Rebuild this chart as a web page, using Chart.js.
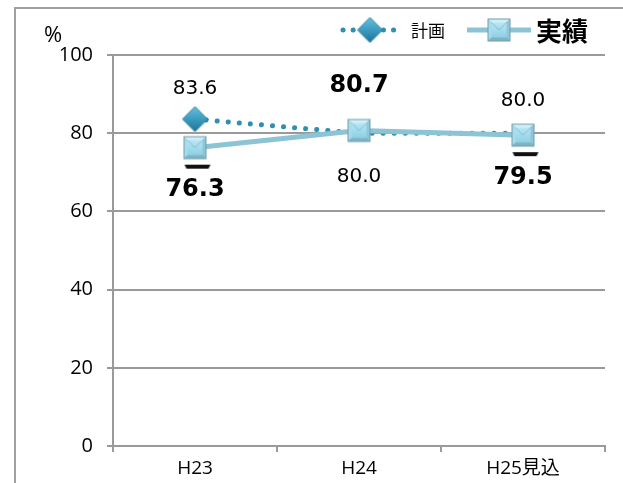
<!DOCTYPE html>
<html lang="ja">
<head>
<meta charset="UTF-8">
<title>計画・実績</title>
<script src="https://cdn.jsdelivr.net/npm/chart.js"></script>
<style>
  html, body { margin: 0; padding: 0; background: #fff; }
  #wrap { width: 623px; height: 483px; position: relative; }
</style>
</head>
<body>
<div id="wrap"><canvas id="chart" width="623" height="483"></canvas></div>
<script>
// データ
const categories = ['H23', 'H24', 'H25見込'];
const planValues = [83.6, 80.0, 80.0];
const actualValues = [76.3, 80.7, 79.5];
const yTicks = [0, 20, 40, 60, 80, 100];

const planLabel = '計画';
const actualLabel = '実績';

// ラベルの上下位置
const planLabelSide = ['above', 'below', 'above'];
const actualLabelSide = ['below', 'above', 'below'];

const gridColor = '#9a9a9a';
const planColor = '#2f8fb0';
const actualColor = '#8cc4d6';

// マーカー画像
function makeDiamond(size) {
    const c = document.createElement('canvas');
    c.width = size; c.height = size;
    const g = c.getContext('2d');
    const h = size / 2;
    const grad = g.createLinearGradient(0, 0, 0, size);
    grad.addColorStop(0, '#6cc3e0');
    grad.addColorStop(0.5, '#3a9cc0');
    grad.addColorStop(1, '#1d6f94');
    g.beginPath();
    g.moveTo(h, 1); g.lineTo(size - 1, h); g.lineTo(h, size - 1); g.lineTo(1, h);
    g.closePath();
    g.fillStyle = grad;
    g.fill();
    g.strokeStyle = '#2a7fa0';
    g.lineWidth = 1;
    g.stroke();
    return c;
}

function makeSquare(side, withBar) {
    const w = side + 10, hgt = 44;
    const c = document.createElement('canvas');
    c.width = w; c.height = hgt;
    const g = c.getContext('2d');
    const x0 = (w - side) / 2, y0 = (hgt - side) / 2;
    const cx = x0 + side / 2, cy = y0 + side / 2;
    g.fillStyle = '#6e9fae';
    g.fillRect(x0, y0, side, side);
    // ベベル
    const tri = (ax, ay, bx, by, col) => {
        g.fillStyle = col;
        g.beginPath(); g.moveTo(ax, ay); g.lineTo(bx, by); g.lineTo(cx, cy); g.closePath(); g.fill();
    };
    tri(x0 + 1, y0 + 1, x0 + side - 1, y0 + 1, '#d2eef7');
    tri(x0 + 1, y0 + 1, x0 + 1, y0 + side - 1, '#a9dbeb');
    tri(x0 + side - 1, y0 + 1, x0 + side - 1, y0 + side - 1, '#8fc6d8');
    tri(x0 + 1, y0 + side - 1, x0 + side - 1, y0 + side - 1, '#7fb3c4');
    const grad = g.createLinearGradient(0, y0 + 4, 0, y0 + side - 4);
    grad.addColorStop(0, '#b8e6f4');
    grad.addColorStop(1, '#8fd0e4');
    g.fillStyle = grad;
    g.fillRect(x0 + 4, y0 + 4, side - 8, side - 8);
    g.strokeStyle = 'rgba(110,170,190,0.7)';
    g.lineWidth = 1;
    g.beginPath();
    g.moveTo(x0 + 4, y0 + 4); g.lineTo(cx, cy); g.lineTo(x0 + side - 4, y0 + 4);
    g.stroke();
    if (withBar) {
        g.fillStyle = '#111';
        g.beginPath();
        g.moveTo(x0 + 1, hgt - 5);
        g.lineTo(x0 + side + 4, hgt - 5);
        g.lineTo(x0 + side + 2, hgt - 1);
        g.lineTo(x0 + 3, hgt - 1);
        g.closePath();
        g.fill();
    }
    return c;
}

const diamondImg = makeDiamond(27);
const squareImg = makeSquare(23, false);
const squareBarImg = makeSquare(23, true);

// 枠・凡例・値ラベル
const decorPlugin = {
    id: 'decor',
    beforeDraw(chart) {
        const ctx = chart.ctx;
        ctx.save();
        ctx.strokeStyle = '#a0a0a0';
        ctx.lineWidth = 2;
        ctx.beginPath();
        ctx.moveTo(15, chart.height);
        ctx.lineTo(15, 8);
        ctx.lineTo(chart.width, 8);
        ctx.stroke();
        ctx.restore();
    },
    afterDraw(chart) {
        const ctx = chart.ctx;
        const area = chart.chartArea;
        ctx.save();
        // 単位
        ctx.fillStyle = '#000';
        ctx.font = '22px "Open Sans"';
        ctx.textAlign = 'left';
        ctx.textBaseline = 'middle';
        ctx.fillText('%', area.left - 69, area.top - 19);

        // 凡例
        const ly = area.top - 25;
        ctx.strokeStyle = planColor;
        ctx.lineWidth = 5;
        ctx.lineCap = 'round';
        ctx.setLineDash([0.1, 10]);
        ctx.beginPath();
        ctx.moveTo(343, ly); ctx.lineTo(398, ly);
        ctx.stroke();
        ctx.setLineDash([]);
        ctx.drawImage(diamondImg, 370 - 13.5, ly - 13.5);
        ctx.font = '17px "Noto Sans CJK JP"';
        ctx.fillStyle = '#000';
        ctx.fillText(planLabel, 411, ly + 1);

        ctx.strokeStyle = actualColor;
        ctx.lineWidth = 5;
        ctx.lineCap = 'butt';
        ctx.beginPath();
        ctx.moveTo(467, ly); ctx.lineTo(531, ly);
        ctx.stroke();
        ctx.drawImage(squareImg, 499 - squareImg.width / 2, ly - squareImg.height / 2);
        ctx.font = 'bold 26px "Noto Sans CJK JP"';
        ctx.fillText(actualLabel, 536, ly + 1);

        // 値ラベル
        const drawLabels = (dsIndex, values, sides, font, up, down) => {
            const meta = chart.getDatasetMeta(dsIndex);
            ctx.font = font;
            ctx.textAlign = 'center';
            ctx.textBaseline = 'middle';
            ctx.fillStyle = '#000';
            meta.data.forEach((pt, i) => {
                const dy = sides[i] === 'above' ? -up[i] : down[i];
                ctx.fillText(values[i].toFixed(1), pt.x, pt.y + dy);
            });
        };
        drawLabels(0, planValues, planLabelSide, '20px "DejaVu Sans"', [30, 30, 32], [44, 44, 44]);
        drawLabels(1, actualValues, actualLabelSide, 'bold 24px "DejaVu Sans"', [45, 45, 45], [42, 43, 43]);
        ctx.restore();
    }
};

const ctx = document.getElementById('chart').getContext('2d');
new Chart(ctx, {
    type: 'line',
    data: {
        labels: categories,
        datasets: [
            {
                label: planLabel,
                data: planValues,
                borderColor: planColor,
                borderWidth: 5,
                borderDash: [0.1, 11],
                borderCapStyle: 'round',
                pointStyle: diamondImg,
                pointRadius: [13, 0, 0],
                pointHoverRadius: [13, 0, 0],
                tension: 0,
                order: 1
            },
            {
                label: actualLabel,
                data: actualValues,
                borderColor: actualColor,
                borderWidth: 5,
                pointStyle: [squareBarImg, squareImg, squareBarImg],
                pointRadius: 12,
                tension: 0,
                order: 0
            }
        ]
    },
    options: {
        responsive: false,
        animation: false,
        layout: { padding: { top: 55, right: 14, left: 0, bottom: 0 } },
        plugins: {
            legend: { display: false },
            tooltip: { enabled: false }
        },
        scales: {
            x: {
                offset: true,
                grid: {
                    offset: true,
                    drawOnChartArea: false,
                    drawTicks: true,
                    tickLength: 6,
                    color: gridColor,
                    lineWidth: 2
                },
                border: { color: gridColor, width: 2 },
                ticks: {
                    color: '#000',
                    font: { family: '"Open Sans", "Noto Sans CJK JP"', size: 19 },
                    padding: 5
                },
                afterFit(scale) { scale.height = 37; }
            },
            y: {
                min: 0,
                max: 100,
                afterBuildTicks(scale) { scale.ticks = yTicks.map(v => ({ value: v })); },
                grid: {
                    color: gridColor,
                    lineWidth: 2,
                    tickLength: 6
                },
                border: { color: gridColor, width: 2 },
                ticks: {
                    color: '#000',
                    font: { family: '"Open Sans"', size: 20 },
                    padding: 14
                },
                afterFit(scale) { scale.width = 113; }
            }
        }
    },
    plugins: [decorPlugin]
});
</script>
</body>
</html>
